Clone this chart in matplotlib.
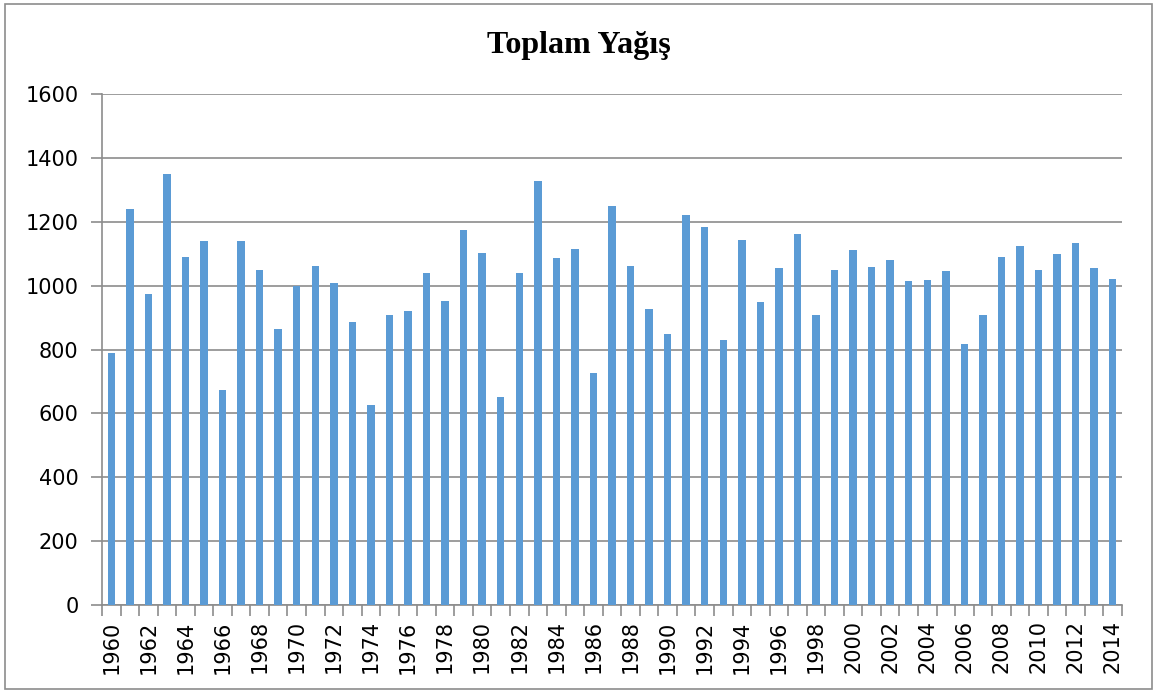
import numpy as np
import matplotlib.pyplot as plt
from matplotlib.patches import Rectangle

years = list(range(1960, 2015))
rain = [790, 1240, 974, 1350, 1089, 1139, 672, 1141, 1050, 864,
        998, 1063, 1008, 887, 625, 907, 919, 1038, 952, 1175,
        1103, 652, 1038, 1329, 1088, 1115, 727, 1249, 1063, 926,
        848, 1221, 1183, 830, 1144, 950, 1055, 1162, 909, 1048,
        1113, 1057, 1081, 1013, 1018, 1047, 818, 908, 1089, 1125,
        1048, 1100, 1133, 1056, 1020]

fig = plt.figure(figsize=(11.56, 6.93), dpi=100)
ax = fig.add_axes([102 / 1156, 1 - 605 / 693, (1122 - 102) / 1156, (605 - 94) / 693])

x = np.arange(len(years))
ax.bar(x, rain, width=0.4, color="#5B9BD5", zorder=3)

# Axes and grid
ax.set_xlim(-0.5, len(years) - 0.5)
ax.set_ylim(0, 1600)
ax.set_yticks(range(0, 1601, 200))
ax.yaxis.grid(True, color="#8C8C8C", linewidth=1.2, zorder=0)
for s in ["top", "right"]:
    ax.spines[s].set_visible(False)
for s in ["left", "bottom"]:
    ax.spines[s].set_color("#8C8C8C")
    ax.spines[s].set_linewidth(1.2)

ax.set_xticks(x[::2])
ax.set_xticklabels([str(y) for y in years[::2]], rotation=90)
ax.set_xticks(np.arange(-0.5, len(years), 1), minor=True)
ax.tick_params(axis="x", which="major", length=0, pad=11, labelsize=15)
ax.tick_params(axis="x", which="minor", length=8, color="#8C8C8C", width=1.2)
ax.tick_params(axis="y", length=8, color="#8C8C8C", width=1.2, pad=9, labelsize=15)

# title centred on the whole chart, not the plot area
fig.text(579 / 1156, 1 - 45 / 693, "Toplam Yağış", family="Liberation Serif",
         fontweight="bold", fontsize=23, ha="center", va="center")

# chart border
fig.patches.append(Rectangle((5 / 1156, 1 - 689 / 693), 1147 / 1156, 685 / 693,
                             transform=fig.transFigure, fill=False,
                             edgecolor="#8C8C8C", linewidth=1.2))

plt.savefig("out.png", dpi=100)
